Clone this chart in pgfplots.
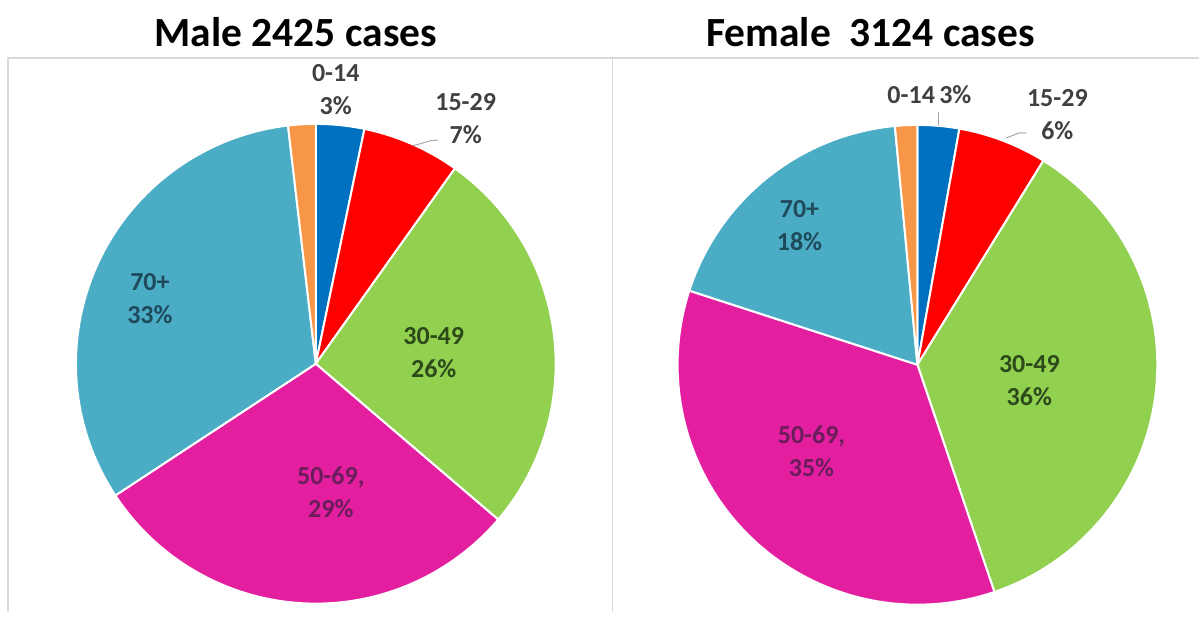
\documentclass[border=0pt]{standalone}
\usepackage{pgfplots}
\pgfplotsset{compat=1.18}
\usepackage{pgfplotstable}
\usepackage{fontspec}
\setmainfont{Carlito}

\definecolor{pBlue}{HTML}{0070C0}
\definecolor{pRed}{HTML}{FF0000}
\definecolor{pGreen}{HTML}{92D050}
\definecolor{pPink}{HTML}{E31FA0}
\definecolor{pTeal}{HTML}{4BACC6}
\definecolor{pOrange}{HTML}{F79646}
\definecolor{labGray}{HTML}{404040}
\definecolor{labTeal}{HTML}{1F4A5C}
\definecolor{labGreen}{HTML}{2D4A1B}
\definecolor{labPink}{HTML}{6A1D5A}
\definecolor{frameGray}{HTML}{D9D9D9}
\definecolor{leadGray}{HTML}{A6A6A6}

% shares in percent, clockwise from the top
\pgfplotstableread{
grp   pct   col
0-14  3.25  pBlue
15-29 6.6   pRed
30-49 26.4  pGreen
50-69 29.5  pPink
70+   32.4  pTeal
unk   1.85  pOrange
}\maletab
\pgfplotstableread{
grp   pct   col
0-14  2.8   pBlue
15-29 6.0   pRed
30-49 36.0  pGreen
50-69 35.2  pPink
70+   18.5  pTeal
unk   1.5   pOrange
}\femaletab

\newcommand\drawpie[4]{%
  \def\cumangle{90}%
  \pgfplotsforeachungrouped \i in {0,...,5}{%
    \pgfplotstablegetelem{\i}{pct}\of{#4}\let\curpct\pgfplotsretval
    \pgfplotstablegetelem{\i}{col}\of{#4}\let\curcol\pgfplotsretval
    \pgfmathsetmacro\endangle{\cumangle-3.6*\curpct}%
    \edef\temp{\noexpand\fill[fill=\curcol, draw=white, line width=2pt, line join=round] (axis cs:#1,#2) -- ++(\cumangle:#3pt) arc[start angle=\cumangle, end angle=\endangle, radius=#3pt] -- cycle;}%
    \temp
    \let\cumangle\endangle
  }%
}

\begin{document}
\begin{tikzpicture}
\begin{axis}[
  width=1200pt, height=612pt, scale only axis,
  xmin=0, xmax=1200, ymin=0, ymax=612,
  hide axis, clip=false,
]
\path (axis cs:0,0) rectangle (axis cs:1200,612);
% frames
\draw[frameGray, line width=1.5pt] (axis cs:8,0) -- (axis cs:8,554) -- (axis cs:1200,554);
\draw[frameGray, line width=1.5pt] (axis cs:613,0) -- (axis cs:613,555);

\drawpie{316}{248}{240}{\maletab}
\drawpie{918}{247}{240}{\femaletab}

% titles
\node[font=\fontsize{41.5}{44}\selectfont\bfseries, text=black] at (axis cs:296,580) {Male 2425 cases};
\node[font=\fontsize{41.5}{44}\selectfont\bfseries, text=black] at (axis cs:871,580) {Female\ \ 3124 cases};

% male labels
\begin{scope}[every node/.style={font=\fontsize{26}{33}\selectfont\bfseries, align=center}]
\node[text=labGray] at (axis cs:336,522) {0-14\\3\%};
\node[text=labGray] at (axis cs:466,493) {15-29\\7\%};
\node[text=labTeal] at (axis cs:150,313) {70+\\33\%};
\node[text=labGreen] at (axis cs:434,259) {30-49\\26\%};
\node[text=labPink] at (axis cs:331,119) {50-69,\\29\%};
% female labels
\node[text=labGray] at (axis cs:930,517) {0-14\,3\%};
\node[text=labGray] at (axis cs:1058,497) {15-29\\6\%};
\node[text=labTeal] at (axis cs:800,386) {70+\\18\%};
\node[text=labGreen] at (axis cs:1030,231) {30-49\\36\%};
\node[text=labPink] at (axis cs:812,160) {50-69,\\35\%};
\end{scope}
% leader lines
\draw[leadGray, line width=1pt] (axis cs:413,466) -- (axis cs:430,471) -- (axis cs:438,472);
\draw[leadGray, line width=1pt] (axis cs:939,500) -- (axis cs:939,486);
\draw[leadGray, line width=1pt] (axis cs:1007,474) -- (axis cs:1020,479) -- (axis cs:1027,479);
\end{axis}
\end{tikzpicture}
\end{document}
